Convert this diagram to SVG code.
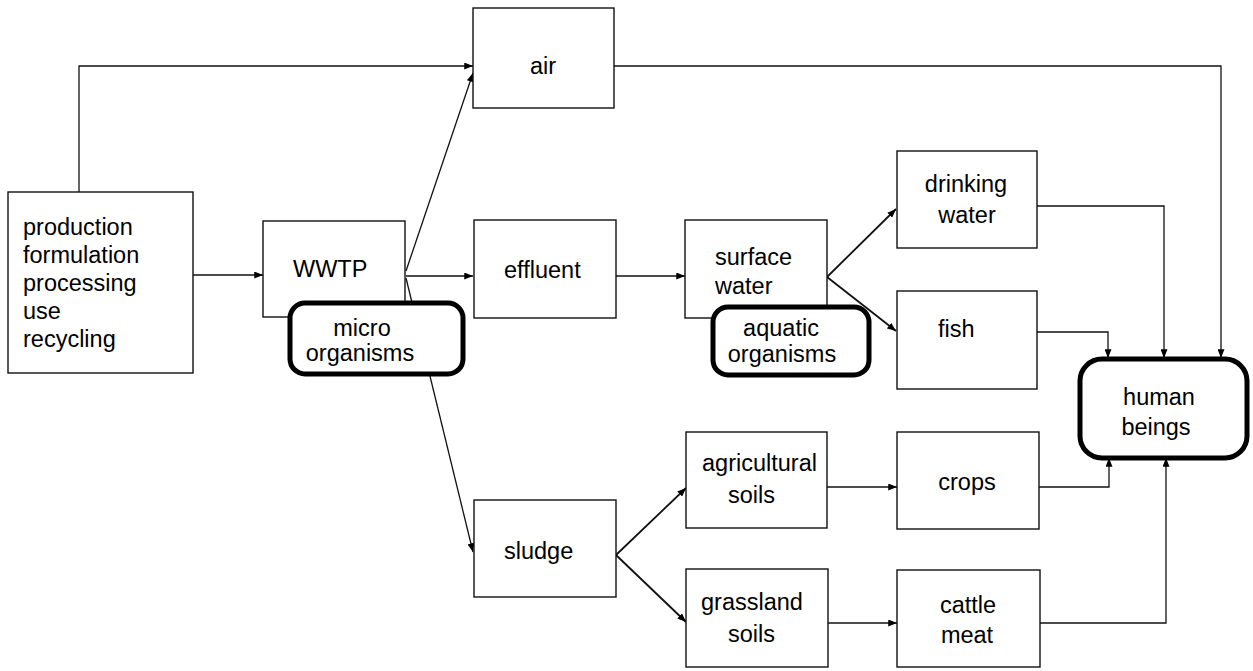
<svg xmlns="http://www.w3.org/2000/svg" width="1253" height="671" viewBox="0 0 1253 671">
<defs>
<style>
.box{fill:#fff;stroke:#111;stroke-width:1.4}
.rbox{fill:#fff;stroke:#000;stroke-width:5}
.t{font-family:"Liberation Sans",Arial,sans-serif;font-size:23.5px;fill:#000}
.c{fill:none;stroke:#111;stroke-width:1.3}
.c2{fill:none;stroke:#111;stroke-width:1.8}
</style>
<marker id="ah" viewBox="0 0 10 8" refX="10" refY="4" markerWidth="9" markerHeight="7" markerUnits="userSpaceOnUse" orient="auto">
<path d="M0,0 L10,4 L0,8 Z" fill="#000"/>
</marker>
</defs>
<rect width="1253" height="671" fill="#fff"/>
<g id="connectors">
<path class="c" d="M79,192 V66 H473" marker-end="url(#ah)"/>
<path class="c" d="M193,275 H263" marker-end="url(#ah)"/>
<path class="c" d="M406,271 L473,73" marker-end="url(#ah)"/>
<path class="c" d="M406,276 H473" marker-end="url(#ah)"/>
<path class="c" d="M406,278 L473,552" marker-end="url(#ah)"/>
<path class="c" d="M615,276 H685" marker-end="url(#ah)"/>
<path class="c" d="M614,66 H1221 V358" marker-end="url(#ah)"/>
<path class="c2" d="M827,277 L896,209" marker-end="url(#ah)"/>
<path class="c2" d="M827,277 L896,331" marker-end="url(#ah)"/>
<path class="c" d="M1037,206 H1164 V358" marker-end="url(#ah)"/>
<path class="c" d="M1037,332 H1108 V358" marker-end="url(#ah)"/>
<path class="c2" d="M616,555 L686,488" marker-end="url(#ah)"/>
<path class="c2" d="M616,555 L686,622" marker-end="url(#ah)"/>
<path class="c" d="M827,487 H897" marker-end="url(#ah)"/>
<path class="c" d="M828,623 H897" marker-end="url(#ah)"/>
<path class="c" d="M1039,487 H1109 V458" marker-end="url(#ah)"/>
<path class="c" d="M1040,623 H1166 V458" marker-end="url(#ah)"/>
</g>
<g id="source">
<rect class="box" x="8" y="192" width="185" height="181"/>
<text class="t" x="23" y="235">production</text>
<text class="t" x="23" y="263">formulation</text>
<text class="t" x="23" y="291">processing</text>
<text class="t" x="23" y="319">use</text>
<text class="t" x="23" y="347">recycling</text>
</g>
<g id="air">
<rect class="box" x="473" y="8" width="141" height="100"/>
<text class="t" x="543" y="74" text-anchor="middle">air</text>
</g>
<g id="wwtp">
<rect class="box" x="263" y="221" width="142" height="96"/>
<text class="t" x="293" y="277">WWTP</text>
</g>
<g id="micro">
<rect class="rbox" x="290" y="303" width="173" height="71" rx="15"/>
<text class="t" x="362" y="336" text-anchor="middle">micro</text>
<text class="t" x="360" y="361" text-anchor="middle">organisms</text>
</g>
<g id="effluent">
<rect class="box" x="474" y="220" width="142" height="98"/>
<text class="t" x="504" y="278">effluent</text>
</g>
<g id="surface">
<rect class="box" x="685" y="220" width="142" height="98"/>
<text class="t" x="715" y="265">surface</text>
<text class="t" x="715" y="294">water</text>
</g>
<g id="aquatic">
<rect class="rbox" x="713" y="307" width="156" height="68" rx="15"/>
<text class="t" x="781" y="336" text-anchor="middle">aquatic</text>
<text class="t" x="782" y="362" text-anchor="middle">organisms</text>
</g>
<g id="drinking">
<rect class="box" x="897" y="151" width="140" height="97"/>
<text class="t" x="966" y="192" text-anchor="middle">drinking</text>
<text class="t" x="967" y="223" text-anchor="middle">water</text>
</g>
<g id="fish">
<rect class="box" x="897" y="291" width="140" height="98"/>
<text class="t" x="938" y="337">fish</text>
</g>
<g id="human">
<rect class="rbox" x="1080" y="359" width="167" height="99" rx="22"/>
<text class="t" x="1159" y="405" text-anchor="middle">human</text>
<text class="t" x="1156" y="435" text-anchor="middle">beings</text>
</g>
<g id="sludge">
<rect class="box" x="474" y="500" width="142" height="97"/>
<text class="t" x="504" y="559">sludge</text>
</g>
<g id="agri">
<rect class="box" x="686" y="432" width="141" height="96"/>
<text class="t" x="702" y="471">agricultural</text>
<text class="t" x="728" y="503">soils</text>
</g>
<g id="grass">
<rect class="box" x="686" y="569" width="142" height="98"/>
<text class="t" x="701" y="610">grassland</text>
<text class="t" x="728" y="642">soils</text>
</g>
<g id="crops">
<rect class="box" x="897" y="432" width="142" height="97"/>
<text class="t" x="967" y="490" text-anchor="middle">crops</text>
</g>
<g id="cattle">
<rect class="box" x="897" y="570" width="143" height="97"/>
<text class="t" x="968" y="613" text-anchor="middle">cattle</text>
<text class="t" x="967" y="643" text-anchor="middle">meat</text>
</g>
</svg>
